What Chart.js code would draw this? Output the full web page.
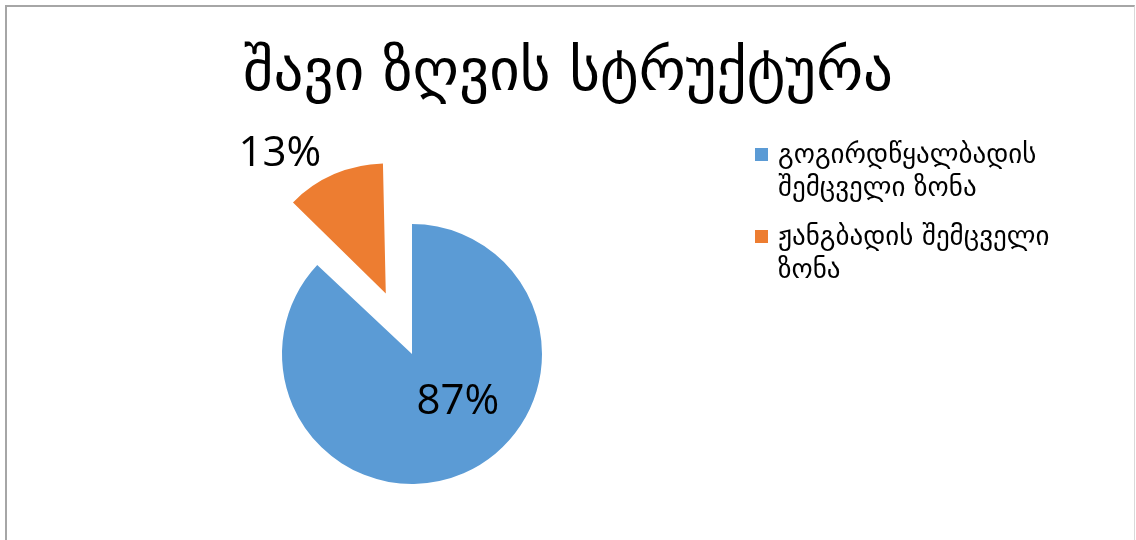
<!DOCTYPE html>
<html>
<head>
<meta charset="utf-8">
<script src="https://cdn.jsdelivr.net/npm/chart.js@4"></script>
<style>
  html, body { margin: 0; padding: 0; background: #fff; overflow: hidden; }
  #wrap { position: relative; width: 1136px; height: 540px; }
  #frame {
    position: absolute; left: 5px; top: 5px; width: 1127px; height: 600px;
    border-left: 2px solid #a6a6a6; border-top: 2px solid #a6a6a6; border-right: 1px solid #d9d9d9;
  }
  #pie { position: absolute; left: 0; top: 0; }
  #title {
    position: absolute; left: 0; top: 33px; width: 1136px; text-align: center;
    font-family: "DejaVu Sans", sans-serif; font-size: 59px; line-height: 74px; color: #000;
    white-space: nowrap;
  }
  #legend {
    position: absolute; left: 755px; top: 137px; width: 330px;
    font-family: "DejaVu Sans", sans-serif; font-size: 27px; line-height: 33px; color: #000;
  }
  .item { position: relative; padding-left: 23px; margin-bottom: 16px; }
  .box { position: absolute; left: 0; top: 11px; width: 13px; height: 13px; }
</style>
</head>
<body>
<div id="wrap">
  <div id="frame"></div>
  <canvas id="pie" width="1136" height="540"></canvas>
  <div id="title"></div>
  <div id="legend"></div>
</div>
<script>
const title = 'შავი ზღვის სტრუქტურა';
const zones = ['გოგირდწყალბადის შემცველი ზონა', 'ჟანგბადის შემცველი ზონა'];
const shares = [87, 13];
const colors = ['#5B9BD5', '#ED7D31'];

document.getElementById('title').textContent = title;

// legend on the right, plain html so long labels wrap
const legend = document.getElementById('legend');
zones.forEach((z, i) => {
  const row = document.createElement('div');
  row.className = 'item';
  row.innerHTML = '<span class="box" style="background:' + colors[i] + '"></span>' + z;
  legend.appendChild(row);
});

// ArcElement grows an offset slice a little; shrink it back so the
// pulled-out piece keeps the same radius as the rest of the pie
const keepRadius = {
  id: 'keepRadius',
  afterDatasetsUpdate(chart) {
    chart.getDatasetMeta(0).data.forEach(arc => {
      const off = (arc.options.offset || 0) / 4;
      const fix = 1 - Math.sin(Math.min(Math.PI, arc.circumference));
      arc.outerRadius -= off * fix;
    });
  }
};

// percent labels: rotate away from the slice middle (deg) and sit at dist * radius
const pctLabels = {
  id: 'pctLabels',
  afterDatasetsDraw(chart, args, opts) {
    const c = chart.ctx;
    const meta = chart.getDatasetMeta(0);
    const r = meta.controller.outerRadius;
    c.save();
    c.font = opts.font;
    c.fillStyle = '#000';
    c.textAlign = 'center';
    c.textBaseline = 'middle';
    meta.data.forEach((arc, i) => {
      const p = arc.getProps(['x', 'y', 'startAngle', 'endAngle']);
      // ArcElement pulls a slice out by offset / 4
      const off = (arc.options.offset || 0) / 4;
      const mid = (p.startAngle + p.endAngle) / 2;
      const bx = p.x + Math.cos(mid) * off;
      const by = p.y + Math.sin(mid) * off;
      const place = opts.place[i];
      const a = mid + place.turn * Math.PI / 180;
      const d = place.dist * r;
      c.fillText(shares[i] + '%', bx + Math.cos(a) * d, by + Math.sin(a) * d);
    });
    c.restore();
  }
};

new Chart(document.getElementById('pie'), {
  type: 'pie',
  data: {
    labels: zones,
    datasets: [{
      data: shares,
      backgroundColor: colors,
      borderWidth: 0,
      offset: [0, 264]
    }]
  },
  options: {
    responsive: false,
    animation: false,
    radius: 130,
    layout: { padding: { left: 150, right: 462, top: 200, bottom: 32 } },
    plugins: {
      legend: { display: false },
      tooltip: { enabled: false },
      pctLabels: {
        font: '42px "Open Sans"',
        place: [{ turn: -20.4, dist: 0.51 }, { turn: -13.9, dist: 1.345 }]
      }
    }
  },
  plugins: [keepRadius, pctLabels]
});
</script>
</body>
</html>
